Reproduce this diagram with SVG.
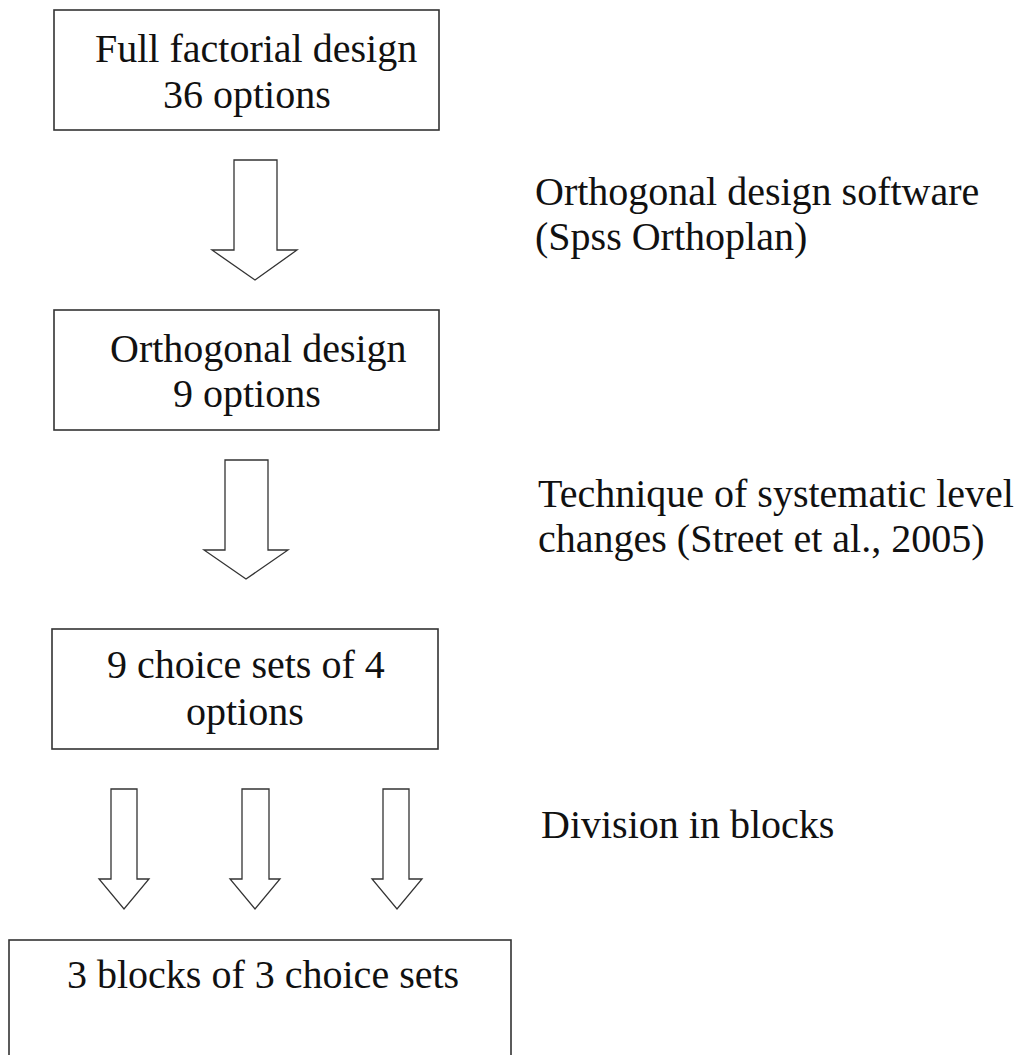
<svg xmlns="http://www.w3.org/2000/svg" width="1019" height="1055" viewBox="0 0 1019 1055">
  <style>
    .box { fill: #ffffff; stroke: #333333; stroke-width: 1.6; }
    .arrow { fill: #ffffff; stroke: #333333; stroke-width: 1.3; stroke-linejoin: miter; }
    text { font-family: 'Liberation Serif', Tinos, 'DejaVu Serif', serif; font-size: 40px; fill: #111111; }
  </style>
  <rect width="1019" height="1055" fill="#ffffff"/>

  <!-- Process boxes -->
  <g id="full-factorial">
    <rect class="box" x="54" y="10" width="385" height="120"/>
    <text x="95" y="62">Full factorial design</text>
    <text x="163" y="108">36 options</text>
  </g>
  <g id="orthogonal-design">
    <rect class="box" x="54" y="310" width="385" height="120"/>
    <text x="110" y="362">Orthogonal design</text>
    <text x="173" y="407">9 options</text>
  </g>
  <g id="choice-sets">
    <rect class="box" x="52" y="629" width="386" height="120"/>
    <text x="107" y="678">9 choice sets of 4</text>
    <text x="186" y="725">options</text>
  </g>
  <g id="blocks">
    <rect class="box" x="9" y="940" width="502" height="130"/>
    <text x="67" y="988">3 blocks of 3 choice sets</text>
  </g>

  <!-- Step annotations -->
  <g id="label-software">
    <text x="535" y="205">Orthogonal design software</text>
    <text x="535" y="250">(Spss Orthoplan)</text>
  </g>
  <g id="label-technique">
    <text x="538" y="507">Technique of systematic level</text>
    <text x="538" y="552">changes (Street et al., 2005)</text>
  </g>
  <g id="label-division">
    <text x="541" y="838">Division in blocks</text>
  </g>

  <!-- Block arrows between steps -->
  <g id="connectors">
    <polygon class="arrow" points="234,160 277,160 277,250 297,250 255,280 212,250 234,250"/>
    <polygon class="arrow" points="225,460 268,460 268,550 288,550 246,579 204,550 225,550"/>
    <polygon class="arrow" points="111,789 137,789 137,879 149,879 124,909 99,879 111,879"/>
    <polygon class="arrow" points="242,789 269,789 269,879 280,879 255,909 230,879 242,879"/>
    <polygon class="arrow" points="383,789 409,789 409,879 422,879 397,909 372,879 383,879"/>
  </g>
</svg>
